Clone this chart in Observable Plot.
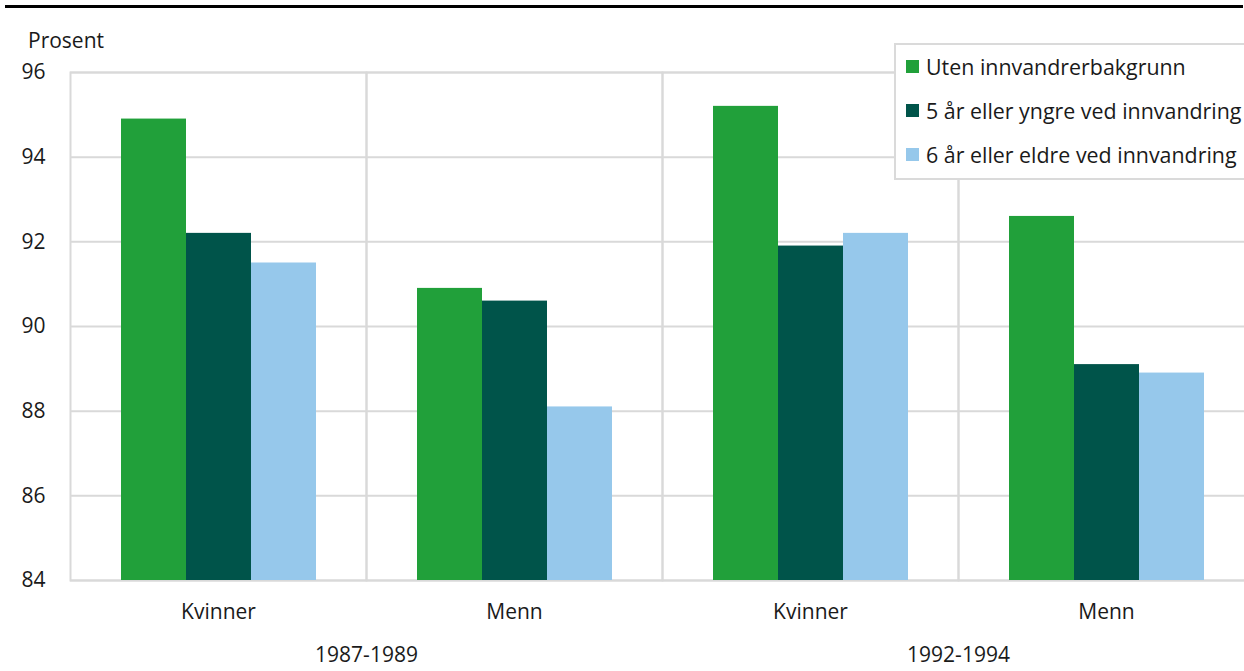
<!DOCTYPE html>
<html><head><meta charset="utf-8">
<script src="https://cdn.jsdelivr.net/npm/d3@7"></script>
<script src="https://cdn.jsdelivr.net/npm/@observablehq/plot@0.6"></script>
<style>
html,body{margin:0;padding:0;overflow:hidden;background:#fff;}
body{font-family:"Open Sans",sans-serif;color:#1a1a1a;}
#wrap{position:relative;width:1244px;height:671px;overflow:hidden;}
#topline{position:absolute;left:5px;top:5px;width:1238px;height:3px;background:#000;}
#unit{position:absolute;left:28px;top:30px;font-size:21px;line-height:20px;}
#chart{position:absolute;left:0;top:0;width:1244px;}
#legend{position:absolute;left:894px;top:43px;width:360px;height:133px;border:2px solid #dadada;background:#fff;}
.row{position:absolute;left:10px;height:26px;display:flex;align-items:center;font-size:21.4px;white-space:nowrap;}
.sw{width:13px;height:13px;margin-right:7px;flex:none;}
</style>
</head><body>
<div id="wrap">
  <div id="chart"></div>
  <div id="topline"></div>
  <div id="unit">Prosent</div>
  <div id="legend"></div>
</div>
<script>
const periods = ["1987-1989", "1992-1994"];
const sexes = ["Kvinner", "Menn"];
const series = ["Uten innvandrerbakgrunn", "5 år eller yngre ved innvandring", "6 år eller eldre ved innvandring"];
const colors = ["#21a03a", "#00544a", "#96c8eb"];
// values ordered: [1987-1989 Kvinner, 1987-1989 Menn, 1992-1994 Kvinner, 1992-1994 Menn]
const utenInnvandrer = [94.9, 90.9, 95.2, 92.6];
const femArEllerYngre = [92.2, 90.6, 91.9, 89.1];
const seksArEllerEldre = [91.5, 88.1, 92.2, 88.9];
const yTicks = [84, 86, 88, 90, 92, 94, 96];

const seriesValues = [utenInnvandrer, femArEllerYngre, seksArEllerEldre];
const groups = [];
periods.forEach(p => sexes.forEach(s => groups.push(p + "|" + s)));
const data = [];
groups.forEach((g, gi) => {
  series.forEach((s, si) => {
    data.push({group: g, series: s, value: seriesValues[si][gi]});
  });
});

const plot = Plot.plot({
  width: 1244,
  height: 671,
  marginTop: 72,
  marginBottom: 91,
  marginLeft: 70,
  marginRight: -10,
  style: {fontFamily: "'Open Sans', sans-serif", fontSize: "21px", color: "#1a1a1a", background: "transparent", overflow: "hidden"},
  fx: {domain: groups, padding: 0, axis: "bottom", tickSize: 0, tickPadding: 24, label: null, tickFormat: d => d.split("|")[1]},
  x: {domain: series, paddingInner: 0, paddingOuter: 0.755, axis: null},
  y: {domain: [84, 96], ticks: yTicks, tickSize: 0, tickPadding: 25, label: null},
  color: {domain: series, range: colors},
  marks: [
    Plot.gridY(yTicks, {stroke: "#d9d9d9", strokeOpacity: 1, strokeWidth: 2}),
    Plot.frame({stroke: "#d9d9d9", strokeWidth: 2}),
    Plot.barY(data, {fx: "group", x: "series", y1: 84, y2: "value", fill: "series"}),
    Plot.text(periods, {fx: p => p + "|Kvinner", text: d => d, frameAnchor: "bottom-right", textAnchor: "middle", dy: 81, fontSize: 21, fill: "#1a1a1a"})
  ]
});
document.getElementById("chart").appendChild(plot);

const leg = document.getElementById("legend");
series.forEach((s, i) => {
  const row = document.createElement("div");
  row.className = "row";
  row.style.top = (8 + 44 * i) + "px";
  const sw = document.createElement("span");
  sw.className = "sw";
  sw.style.background = colors[i];
  const t = document.createElement("span");
  t.textContent = s;
  row.appendChild(sw);
  row.appendChild(t);
  leg.appendChild(row);
});
</script>
</body></html>
